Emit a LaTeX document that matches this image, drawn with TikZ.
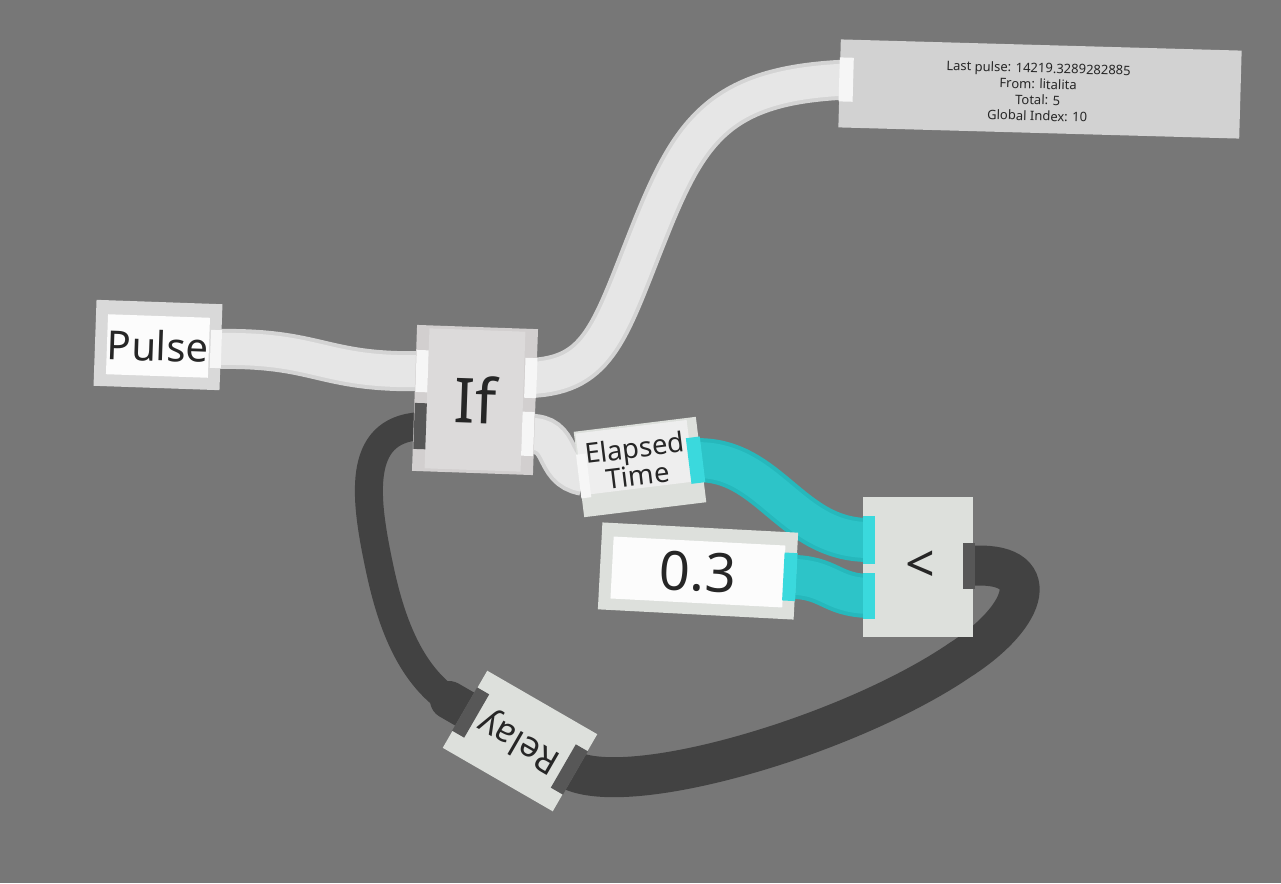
\documentclass[tikz,border=0pt]{standalone}
\usepackage{fontspec}
\setmainfont{Noto Sans}
\pgfdeclarelayer{bg}\pgfdeclarelayer{wires}\pgfsetlayers{bg,wires,main}
\definecolor{bgc}{HTML}{777777}
\definecolor{boxc}{HTML}{D9D9D9}
\definecolor{boxg}{HTML}{DDE0DC}
\definecolor{ifc}{HTML}{D2CFCF}
\definecolor{ifin}{HTML}{DCDADA}
\definecolor{dispc}{HTML}{D2D2D2}
\definecolor{innerw}{HTML}{FCFCFC}
\definecolor{txt}{HTML}{262626}
\definecolor{wireW}{HTML}{D4D4D4}
\definecolor{wireWi}{HTML}{E6E6E6}
\definecolor{cyanO}{HTML}{26B8BC}
\definecolor{cyanI}{HTML}{2DC4C8}
\definecolor{darkW}{HTML}{424242}
\definecolor{tabW}{HTML}{F6F6F6}
\definecolor{tabC}{HTML}{3AD9DD}
\definecolor{tabD}{HTML}{575757}
\begin{document}
\begin{tikzpicture}[x=1pt,y=-1pt,
  box/.style={inner sep=0pt, text=txt, align=center},
  tabw/.style={fill=tabW, inner sep=0pt},
  tabc/.style={fill=tabC, inner sep=0pt},
  tabd/.style={fill=tabD, inner sep=0pt},
  wirewhite/.style={line width=40, draw=wireW, postaction={draw=wireWi, line width=32}},
  wirecyan/.style={line width=44, draw=cyanO, postaction={draw=cyanI, line width=36}},
  wiredark/.style={line width=#1, draw=darkW}]
\begin{pgfonlayer}{bg}
\fill[bgc] (0,0) rectangle (1281,883);
\end{pgfonlayer}
\useasboundingbox (0,0) rectangle (1281,883);

% Pulse
\begin{scope}[shift={(158,345)}, rotate=-2, transform shape]
  \node[box, fill=boxc, minimum width=126, minimum height=86] (pulse) at (0,0) {};
  \node[box, fill=innerw, minimum width=102, minimum height=60, font=\fontsize{40}{40}\selectfont] (pulsetxt) at (0,1) {Pulse};
  \node[tabw, minimum width=11, minimum height=38] (pulseout) at (58,2) {};
\end{scope}

% If
\begin{scope}[shift={(475,400)}, rotate=-2, transform shape]
  \node[box, fill=ifc, minimum width=121, minimum height=146] (ifbox) at (0,0) {};
  \node[box, fill=ifin, minimum width=96, minimum height=140, font=\fontsize{62}{62}\selectfont] (iftxt) at (0,0) {If};
  \node[tabw, minimum width=12, minimum height=42] (ifin1) at (-54,-27) {};
  \node[tabd, minimum width=12, minimum height=46] (ifin2) at (-54,28) {};
  \node[tabw, minimum width=12, minimum height=40] (ifout1) at (55,-24) {};
  \node[tabw, minimum width=12, minimum height=44] (ifout2) at (54,32) {};
\end{scope}

% Display
\begin{scope}[shift={(1040,89)}, rotate=-1.6, transform shape]
  \node[box, fill=dispc, minimum width=401, minimum height=88] (disp) at (0,0) {};
  \node[box, font=\fontsize{13}{16}\selectfont] (disptxt) at (-2,3) {Last pulse: 14219.3289282885\\From: litalita\\Total: 5\\Global Index: 10};
  \node[tabw, minimum width=14, minimum height=44] (dispin) at (-194,-4) {};
\end{scope}

% Elapsed Time
\begin{scope}[shift={(640,467)}, rotate=7, transform shape]
  \node[box, fill=boxg, minimum width=123, minimum height=86] (elapsed) at (0,0) {};
  \node[box, fill=innerw!60!boxc, minimum width=112, minimum height=62] (elapsedpanel) at (-4,-10) {};
  \node[box, font=\fontsize{27.5}{24}\selectfont] (elapsedtxt) at (-3,-6) {Elapsed\\Time};
  \node[tabw, minimum width=10, minimum height=44] (elapsedin) at (-57,2) {};
  \node[tabc, minimum width=14, minimum height=46] (elapsedout) at (56,0) {};
\end{scope}

% 0.3
\begin{scope}[shift={(698,571)}, rotate=-3, transform shape]
  \node[box, fill=boxg, minimum width=196, minimum height=87] (zero) at (0,0) {};
  \node[box, fill=innerw, minimum width=172, minimum height=62, font=\fontsize{54}{54}\selectfont] (zerotxt) at (0,1) {0.3};
  \node[tabc, minimum width=13, minimum height=48] (zeroout) at (92,1) {};
\end{scope}

% <
\begin{scope}[shift={(918,567)}]
  \node[box, fill=boxg, minimum width=110, minimum height=140] (lt) at (0,0) {};
  \node[box, font=\fontsize{52}{52}\selectfont] (lttxt) at (2,0) {<};
  \node[tabc, minimum width=12, minimum height=48] (ltin1) at (-49,-27) {};
  \node[tabc, minimum width=12, minimum height=46] (ltin2) at (-49,29) {};
  \node[tabd, minimum width=12, minimum height=46] (ltout) at (51,-1) {};
\end{scope}

% Relay
\begin{scope}[shift={(520,741)}, rotate=150, transform shape]
  \node[box, fill=boxg, minimum width=127, minimum height=89, font=\fontsize{35}{35}\selectfont] (relay) at (0,0) {Relay};
  \node[tabd, minimum width=14, minimum height=50] (relayA) at (57,0) {};
  \node[tabd, minimum width=14, minimum height=50] (relayB) at (-57,0) {};
  \coordinate (relayAbulb) at (82,0);
\end{scope}

\begin{pgfonlayer}{wires}
  \draw[wirewhite] (pulseout.center) .. controls (320,347) and (320,373) .. (ifin1.center);
  \draw[wirewhite] (ifout1.center) .. controls (600,375) and (610,330) .. (650,230)
        .. controls (690,130) and (720,85) .. (dispin.center);
  \draw[wirewhite] (ifout2.center) .. controls (565,432) and (550,470) .. (elapsedin.center);
  \draw[wirecyan] (elapsedout.center) .. controls (770,458) and (790,540) .. (ltin1.center);
  \draw[wirecyan] (zeroout.center) .. controls (830,577) and (830,595) .. (ltin2.center);
  \draw[wiredark=40] (ltout.center) .. controls (1045,560) and (1030,615) .. (960,660)
        .. controls (850,735) and (630,800) .. (relayB.center);
  \draw[wiredark=28] (relayA.center) .. controls (420,690) and (395,640) .. (380,570)
        .. controls (365,500) and (355,430) .. (ifin2.center);
  \draw[wiredark=38, line cap=round] (relayA.center) -- (relayAbulb);
\end{pgfonlayer}
\end{tikzpicture}
\end{document}
